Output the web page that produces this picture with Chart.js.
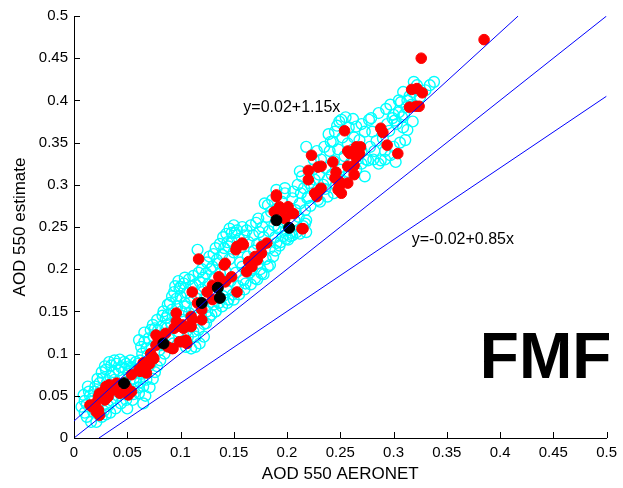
<!DOCTYPE html>
<html>
<head>
<meta charset="utf-8">
<title>AOD 550 FMF</title>
<script src="https://cdn.jsdelivr.net/npm/chart.js@4.4.1/dist/chart.umd.min.js"></script>
<style>
  html, body { margin: 0; padding: 0; background: #fff; }
  #wrap { width: 623px; height: 488px; }
</style>
</head>
<body>
<div id="wrap"><canvas id="aodChart" width="623" height="488"></canvas></div>
<script>
// tick values on both axes
const xTicks = [0, 0.05, 0.1, 0.15, 0.2, 0.25, 0.3, 0.35, 0.4, 0.45, 0.5];
const yTicks = [0, 0.05, 0.1, 0.15, 0.2, 0.25, 0.3, 0.35, 0.4, 0.45, 0.5];

// reference lines (end points in data units)
const lineOneToOne = [[0, 0], [0.5, 0.5]];
const lineUpper = [[0, 0.02], [0.417, 0.5]];     // y=0.02+1.15x
const lineLower = [[0.0235, 0], [0.5, 0.405]];  // y=-0.02+0.85x

// cyan open circles
const cyanPts = [
  [0.007,0.037],[0.009,0.051],[0.010,0.044],[0.012,0.025],[0.013,0.061],[0.014,0.055],[0.016,0.019],[0.017,0.047],
  [0.018,0.031],[0.020,0.061],[0.021,0.019],[0.022,0.040],[0.024,0.065],[0.025,0.056],[0.026,0.025],[0.027,0.071],
  [0.028,0.032],[0.030,0.081],[0.031,0.066],[0.032,0.038],[0.034,0.073],[0.035,0.086],[0.036,0.044],[0.037,0.078],
  [0.038,0.069],[0.040,0.088],[0.041,0.050],[0.042,0.080],[0.044,0.084],[0.044,0.041],[0.046,0.072],[0.047,0.090],
  [0.049,0.088],[0.049,0.045],[0.051,0.078],[0.052,0.085],[0.054,0.084],[0.055,0.045],[0.056,0.070],[0.058,0.067],
  [0.058,0.090],[0.060,0.060],[0.061,0.053],[0.062,0.092],[0.063,0.076],[0.065,0.061],[0.065,0.041],[0.066,0.114],
  [0.067,0.050],[0.068,0.069],[0.069,0.098],[0.070,0.085],[0.061,0.116],[0.072,0.128],[0.072,0.088],[0.073,0.108],
  [0.074,0.134],[0.075,0.120],[0.076,0.078],[0.078,0.140],[0.079,0.128],[0.080,0.104],[0.081,0.092],[0.082,0.132],
  [0.083,0.145],[0.084,0.122],[0.085,0.100],[0.086,0.142],[0.087,0.130],[0.088,0.146],[0.089,0.118],[0.090,0.160],
  [0.091,0.136],[0.092,0.152],[0.093,0.112],[0.094,0.173],[0.095,0.145],[0.096,0.165],[0.097,0.156],[0.098,0.126],
  [0.099,0.177],[0.100,0.179],[0.100,0.168],[0.101,0.150],[0.102,0.140],[0.103,0.183],[0.104,0.160],[0.105,0.156],
  [0.105,0.108],[0.106,0.172],[0.107,0.120],[0.108,0.148],[0.110,0.106],[0.110,0.165],[0.111,0.180],[0.112,0.126],
  [0.113,0.155],[0.114,0.120],[0.115,0.170],[0.116,0.223],[0.117,0.128],[0.118,0.185],[0.119,0.145],[0.120,0.176],
  [0.121,0.190],[0.122,0.135],[0.123,0.166],[0.124,0.195],[0.125,0.150],[0.126,0.182],[0.127,0.143],[0.128,0.200],
  [0.129,0.172],[0.130,0.203],[0.131,0.158],[0.132,0.190],[0.133,0.150],[0.134,0.211],[0.135,0.178],[0.136,0.160],
  [0.136,0.207],[0.137,0.195],[0.138,0.186],[0.139,0.217],[0.140,0.168],[0.141,0.225],[0.142,0.198],[0.143,0.176],
  [0.144,0.232],[0.145,0.164],[0.145,0.227],[0.146,0.212],[0.147,0.186],[0.148,0.233],[0.148,0.243],[0.149,0.170],
  [0.150,0.220],[0.151,0.243],[0.152,0.196],[0.153,0.246],[0.154,0.180],[0.155,0.236],[0.156,0.208],[0.157,0.226],
  [0.158,0.250],[0.158,0.203],[0.159,0.187],[0.160,0.240],[0.161,0.183],[0.162,0.246],[0.163,0.215],[0.164,0.232],
  [0.165,0.196],[0.166,0.252],[0.167,0.199],[0.168,0.240],[0.169,0.222],[0.170,0.189],[0.171,0.255],[0.172,0.230],
  [0.173,0.207],[0.173,0.260],[0.174,0.244],[0.175,0.200],[0.176,0.195],[0.177,0.250],[0.178,0.238],[0.179,0.278],
  [0.180,0.212],[0.181,0.262],[0.182,0.203],[0.182,0.276],[0.183,0.245],[0.184,0.225],[0.185,0.268],[0.186,0.282],
  [0.187,0.215],[0.188,0.252],[0.189,0.238],[0.190,0.231],[0.190,0.294],[0.191,0.272],[0.192,0.248],[0.193,0.228],
  [0.194,0.262],[0.195,0.280],[0.196,0.239],[0.197,0.255],[0.198,0.290],[0.198,0.296],[0.199,0.246],[0.200,0.268],
  [0.201,0.235],[0.203,0.239],[0.204,0.243],[0.205,0.284],[0.206,0.292],[0.207,0.258],[0.208,0.270],[0.209,0.244],
  [0.210,0.300],[0.211,0.262],[0.212,0.278],[0.212,0.316],[0.213,0.290],[0.214,0.310],[0.215,0.251],[0.216,0.296],
  [0.217,0.254],[0.217,0.270],[0.218,0.244],[0.218,0.258],[0.218,0.345],[0.219,0.284],[0.220,0.286],[0.221,0.302],
  [0.222,0.275],[0.223,0.298],[0.224,0.318],[0.226,0.306],[0.227,0.290],[0.229,0.282],[0.230,0.312],[0.232,0.330],
  [0.234,0.300],[0.236,0.320],[0.238,0.306],[0.238,0.286],[0.240,0.340],[0.241,0.351],[0.242,0.312],[0.243,0.351],
  [0.244,0.328],[0.245,0.363],[0.246,0.300],[0.248,0.342],[0.249,0.375],[0.250,0.318],[0.251,0.377],[0.252,0.356],
  [0.254,0.334],[0.255,0.310],[0.257,0.349],[0.258,0.368],[0.260,0.326],[0.262,0.342],[0.263,0.356],[0.265,0.369],
  [0.266,0.330],[0.268,0.353],[0.270,0.340],[0.273,0.363],[0.273,0.310],[0.274,0.330],[0.276,0.329],[0.277,0.377],
  [0.278,0.345],[0.279,0.379],[0.280,0.363],[0.282,0.340],[0.284,0.352],[0.286,0.325],[0.288,0.329],[0.290,0.355],
  [0.292,0.340],[0.294,0.372],[0.296,0.364],[0.297,0.335],[0.299,0.379],[0.300,0.383],[0.301,0.376],[0.302,0.327],
  [0.303,0.372],[0.305,0.386],[0.307,0.398],[0.308,0.380],[0.310,0.383],[0.311,0.353],[0.312,0.392],[0.313,0.400],
  [0.315,0.405],[0.317,0.395],[0.319,0.422],[0.322,0.418],[0.325,0.404],[0.330,0.412],[0.334,0.418],[0.338,0.422],
  [0.010,0.030],[0.012,0.040],[0.015,0.050],[0.019,0.055],[0.022,0.070],[0.026,0.078],[0.029,0.085],[0.033,0.090],
  [0.038,0.092],[0.043,0.093],[0.048,0.082],[0.053,0.092],[0.057,0.080],[0.060,0.088],[0.045,0.060],[0.039,0.035],
  [0.034,0.030],[0.030,0.028],[0.050,0.035],[0.056,0.052],[0.062,0.066],[0.064,0.100],[0.068,0.106],[0.070,0.118],
  [0.066,0.125],[0.063,0.108],[0.071,0.060],[0.074,0.070],[0.078,0.085],[0.082,0.110],[0.084,0.150],[0.080,0.120],
  [0.076,0.130],[0.088,0.158],[0.092,0.168],[0.095,0.180],[0.098,0.186],[0.104,0.190],[0.108,0.188],[0.112,0.192],
  [0.114,0.182],[0.117,0.196],[0.120,0.200],[0.125,0.208],[0.127,0.215],[0.131,0.218],[0.133,0.225],[0.137,0.230],
  [0.140,0.238],[0.143,0.242],[0.146,0.248],[0.150,0.252],[0.118,0.112],[0.114,0.108],[0.122,0.120],[0.124,0.136],
  [0.129,0.146],[0.133,0.150],[0.139,0.156],[0.144,0.160],[0.150,0.164],[0.155,0.170],[0.160,0.176],[0.166,0.182],
  [0.172,0.188],[0.178,0.194],[0.184,0.205],[0.189,0.222],[0.194,0.232],[0.199,0.236],[0.205,0.240],[0.212,0.242],
  [0.225,0.330],[0.228,0.340],[0.235,0.345],[0.239,0.360],[0.247,0.370],[0.255,0.380],[0.262,0.378],[0.270,0.372],
  [0.286,0.385],[0.293,0.390],[0.297,0.395],[0.305,0.400],[0.309,0.410],[0.318,0.410],[0.231,0.280],[0.236,0.295],
  [0.244,0.290],[0.250,0.305],[0.258,0.315],[0.265,0.318],[0.270,0.325],[0.281,0.330],[0.292,0.330],[0.300,0.345],
  [0.306,0.350],[0.313,0.365],[0.318,0.375],[0.309,0.368]
];

// red filled circles
const redPts = [
  [0.385,0.472],[0.326,0.450],[0.317,0.413],[0.322,0.414],[0.327,0.409],[0.315,0.392],[0.321,0.393],[0.324,0.393],
  [0.288,0.367],[0.290,0.362],[0.254,0.364],[0.294,0.347],[0.304,0.337],[0.269,0.345],[0.259,0.337],[0.265,0.333],
  [0.223,0.335],[0.232,0.322],[0.243,0.327],[0.257,0.322],[0.263,0.312],[0.220,0.306],[0.245,0.308],[0.249,0.304],
  [0.231,0.294],[0.228,0.286],[0.248,0.294],[0.251,0.290],[0.215,0.248],[0.229,0.321],[0.190,0.286],[0.188,0.268],
  [0.195,0.270],[0.201,0.274],[0.204,0.266],[0.198,0.260],[0.214,0.248],[0.159,0.229],[0.152,0.223],[0.117,0.212],
  [0.142,0.207],[0.181,0.231],[0.176,0.219],[0.172,0.211],[0.167,0.203],[0.162,0.197],[0.153,0.173],[0.148,0.191],
  [0.142,0.185],[0.136,0.191],[0.130,0.181],[0.125,0.173],[0.130,0.164],[0.111,0.173],[0.116,0.160],[0.120,0.152],
  [0.120,0.140],[0.111,0.140],[0.110,0.132],[0.103,0.130],[0.100,0.132],[0.096,0.138],[0.102,0.114],[0.106,0.112],
  [0.086,0.124],[0.079,0.118],[0.077,0.110],[0.072,0.100],[0.092,0.106],[0.075,0.094],[0.065,0.086],[0.061,0.081],
  [0.068,0.077],[0.054,0.075],[0.049,0.061],[0.054,0.055],[0.040,0.065],[0.037,0.057],[0.030,0.061],[0.024,0.053],
  [0.029,0.045],[0.023,0.049],[0.015,0.039],[0.021,0.031],[0.024,0.027],[0.032,0.049],[0.043,0.053],[0.190,0.288],
  [0.193,0.274],[0.206,0.266],[0.226,0.290],[0.158,0.231],[0.153,0.227],[0.176,0.227],[0.170,0.215],[0.164,0.209],
  [0.141,0.205],[0.257,0.340],[0.265,0.345],[0.268,0.337],[0.263,0.323],[0.220,0.317],[0.246,0.315],[0.232,0.296],
  [0.249,0.298],[0.257,0.302],[0.033,0.063],[0.028,0.055],[0.025,0.049],[0.020,0.041],[0.017,0.037],[0.023,0.033],
  [0.051,0.051],[0.062,0.079],[0.067,0.083],[0.065,0.089],[0.071,0.092],[0.088,0.108],[0.093,0.106],[0.099,0.114],
  [0.077,0.122],[0.094,0.130],[0.102,0.134],[0.110,0.144],[0.105,0.116],[0.074,0.096],[0.071,0.088],[0.096,0.148]
];

// black filled circles
const blackPts = [
  [0.047,0.065],[0.084,0.112],[0.120,0.160],[0.135,0.178],[0.137,0.166],[0.190,0.258],[0.202,0.249]
];

// text placed in data units
const notes = [
  { text: 'y=0.02+1.15x', x: 0.159, y: 0.391, font: '16px "Liberation Sans", Arial, sans-serif' },
  { text: 'y=-0.02+0.85x', x: 0.317, y: 0.235, font: '16px "Liberation Sans", Arial, sans-serif' },
  { text: 'FMF', x: 0.381, y: 0.092, font: 'bold 64px "Liberation Sans", Arial, sans-serif' }
];

const toXY = arr => arr.map(p => ({ x: p[0], y: p[1] }));
const FONT = '"Liberation Sans", Arial, sans-serif';

// tick marks pointing into the plot, MATLAB style
const innerTicks = {
    id: 'innerTicks',
    afterDraw(chart) {
        const { ctx, chartArea, scales } = chart;
        ctx.save();
        ctx.strokeStyle = '#000';
        ctx.lineWidth = 1;
        ctx.beginPath();
        xTicks.forEach(v => {
            const px = Math.round(scales.x.getPixelForValue(v)) + 0.5;
            ctx.moveTo(px, chartArea.bottom);
            ctx.lineTo(px, chartArea.bottom - 6);
        });
        yTicks.forEach(v => {
            const py = Math.round(scales.y.getPixelForValue(v)) + 0.5;
            ctx.moveTo(chartArea.left, py);
            ctx.lineTo(chartArea.left + 6, py);
        });
        ctx.stroke();
        ctx.restore();
    }
};

const textNotes = {
    id: 'textNotes',
    afterDraw(chart) {
        const { ctx, scales } = chart;
        ctx.save();
        ctx.fillStyle = '#000';
        ctx.textAlign = 'left';
        ctx.textBaseline = 'middle';
        notes.forEach(n => {
            ctx.font = n.font;
            ctx.fillText(n.text, scales.x.getPixelForValue(n.x), scales.y.getPixelForValue(n.y));
        });
        ctx.restore();
    }
};

const refLine = data => ({
    type: 'line',
    data: toXY(data),
    borderColor: '#0000ff',
    borderWidth: 1,
    pointRadius: 0,
    fill: false,
    showLine: true
});

const ctx = document.getElementById('aodChart').getContext('2d');
new Chart(ctx, {
    type: 'scatter',
    data: {
        datasets: [
            { ...refLine(lineOneToOne), order: 0 },
            { ...refLine(lineUpper), order: 0 },
            { ...refLine(lineLower), order: 0 },
            {
                data: toXY(blackPts),
                backgroundColor: '#000',
                borderColor: '#000',
                borderWidth: 1,
                pointRadius: 5.5,
                order: 1
            },
            {
                data: toXY(redPts),
                backgroundColor: '#ff0000',
                borderColor: '#ff0000',
                borderWidth: 1,
                pointRadius: 5.3,
                order: 2
            },
            {
                data: toXY(cyanPts),
                backgroundColor: 'rgba(0,0,0,0)',
                borderColor: '#00ffff',
                borderWidth: 1.4,
                pointRadius: 5.4,
                order: 3
            }
        ]
    },
    options: {
        responsive: false,
        animation: false,
        events: [],
        layout: { padding: { top: 16, right: 12, left: 0, bottom: 0 } },
        plugins: {
            legend: { display: false },
            tooltip: { enabled: false }
        },
        scales: {
            x: {
                type: 'linear',
                min: 0,
                max: 0.5,
                afterBuildTicks: s => { s.ticks = xTicks.map(v => ({ value: v })); },
                afterFit: s => { s.height = 50; },
                grid: { display: false, drawTicks: false },
                border: { display: true, color: '#000', width: 1 },
                ticks: {
                    color: '#000',
                    padding: 6,
                    maxRotation: 0,
                    font: { family: FONT, size: 15 },
                    callback: v => String(Number(v.toFixed(2)))
                },
                title: {
                    display: true,
                    text: 'AOD 550 AERONET',
                    color: '#000',
                    font: { family: FONT, size: 17 },
                    padding: { top: 0, bottom: 3 }
                }
            },
            y: {
                type: 'linear',
                min: 0,
                max: 0.5,
                afterBuildTicks: s => { s.ticks = yTicks.map(v => ({ value: v })); },
                afterFit: s => { s.width = 74; },
                grid: { display: false, drawTicks: false },
                border: { display: true, color: '#000', width: 1 },
                ticks: {
                    color: '#000',
                    padding: 6,
                    font: { family: FONT, size: 15 },
                    callback: v => String(Number(v.toFixed(2)))
                },
                title: {
                    display: true,
                    text: 'AOD 550 estimate',
                    color: '#000',
                    font: { family: FONT, size: 17 },
                    padding: { top: 10, bottom: 0 }
                }
            }
        }
    },
    plugins: [innerTicks, textNotes]
});
</script>
</body>
</html>
